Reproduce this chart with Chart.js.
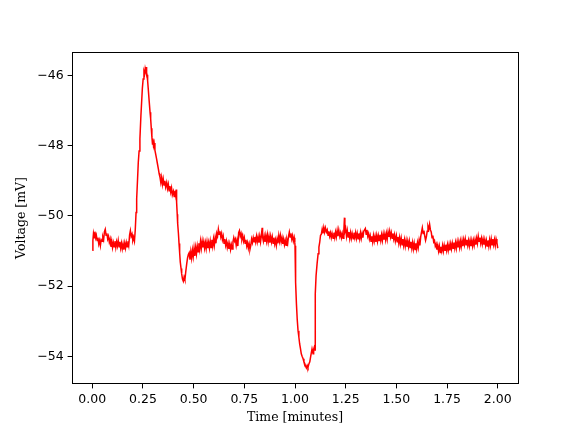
<!DOCTYPE html>
<html>
<head>
<meta charset="utf-8">
<script src="https://cdn.jsdelivr.net/npm/chart.js@4/dist/chart.umd.min.js"></script>
<style>
  html, body { margin: 0; padding: 0; background: #fff; }
</style>
</head>
<body>
<canvas id="myChart" width="576" height="432"></canvas>
<script>
// trace, in pieces (time in minutes, voltage in mV)
// baseline before the spike
const preTime = [
  0.000, 0.003, 0.006, 0.010, 0.013, 0.017, 0.020, 0.024, 0.028, 0.032,
  0.036, 0.040, 0.044, 0.048, 0.052, 0.056, 0.060, 0.064, 0.068, 0.072,
  0.076, 0.080, 0.084, 0.088, 0.092, 0.096, 0.100, 0.104, 0.108, 0.112,
  0.116, 0.120, 0.124, 0.128, 0.132, 0.136, 0.140, 0.144, 0.148, 0.152,
  0.156, 0.160, 0.164, 0.168, 0.172, 0.176, 0.180, 0.184, 0.188, 0.192,
  0.196, 0.200, 0.204, 0.208
];
const preVolt = [
  -50.98, -50.70, -50.50, -50.62, -50.45, -50.62, -50.55, -50.70, -50.62, -50.80,
  -50.70, -50.85, -50.68, -50.72, -50.60, -50.68, -50.45, -50.38, -50.55, -50.50,
  -50.66, -50.58, -50.75, -50.66, -50.88, -50.72, -50.90, -50.76, -50.88, -50.72,
  -50.90, -50.74, -50.86, -50.70, -50.88, -50.74, -50.92, -50.78, -50.94, -50.80,
  -50.96, -50.78, -50.92, -50.76, -50.88, -50.72, -50.84, -50.55, -50.42, -50.58,
  -50.52, -50.70, -50.62, -50.72
];
// spike and the undershoot after it
const spikeTime = [
  0.212, 0.216, 0.219, 0.223, 0.227, 0.231, 0.235, 0.240, 0.244, 0.247,
  0.251, 0.255, 0.258, 0.261, 0.264, 0.266, 0.268, 0.270, 0.273, 0.276,
  0.281, 0.285, 0.288, 0.291, 0.294, 0.297, 0.299, 0.302, 0.305, 0.309,
  0.313, 0.317, 0.321, 0.326, 0.330, 0.334, 0.338, 0.342, 0.346, 0.350,
  0.354, 0.358, 0.362, 0.367, 0.371, 0.375, 0.379, 0.383, 0.387, 0.391,
  0.395, 0.400, 0.404, 0.408, 0.411, 0.414, 0.416, 0.419, 0.421, 0.425,
  0.428, 0.431, 0.434, 0.438, 0.441, 0.445, 0.449, 0.453, 0.457, 0.461,
  0.466, 0.470, 0.474
];
const spikeVolt = [
  -50.40, -49.90, -49.51, -49.00, -48.47, -48.15, -47.80, -47.13, -46.70, -46.37,
  -46.10, -45.89, -45.95, -45.80, -45.88, -45.76, -45.92, -45.98, -46.15, -46.37,
  -46.75, -47.05, -47.23, -47.50, -47.75, -47.95, -47.80, -48.00, -47.92, -48.13,
  -48.25, -48.37, -48.50, -48.66, -48.80, -48.90, -49.05, -48.90, -49.10, -48.95,
  -49.12, -49.00, -49.18, -49.05, -49.22, -49.10, -49.28, -49.15, -49.32, -49.20,
  -49.40, -49.30, -49.45, -49.28, -49.40, -49.25, -49.61, -49.95, -50.20, -50.50,
  -50.79, -51.05, -51.31, -51.50, -51.65, -51.80, -51.86, -51.74, -51.82, -51.60,
  -51.36, -51.20, -51.10
];
// baseline between the spike and the dip
const midTime = [
  0.478, 0.482, 0.486, 0.490, 0.494, 0.498, 0.502, 0.506, 0.510, 0.514,
  0.518, 0.522, 0.526, 0.530, 0.534, 0.538, 0.542, 0.546, 0.550, 0.554,
  0.558, 0.562, 0.566, 0.570, 0.574, 0.578, 0.582, 0.586, 0.590, 0.594,
  0.598, 0.602, 0.606, 0.610, 0.614, 0.618, 0.622, 0.626, 0.630, 0.634,
  0.638, 0.642, 0.646, 0.650, 0.654, 0.658, 0.662, 0.666, 0.670, 0.674,
  0.678, 0.682, 0.686, 0.690, 0.694, 0.698, 0.702, 0.706, 0.710, 0.714,
  0.718, 0.722, 0.726, 0.730, 0.734, 0.738, 0.742, 0.746, 0.750, 0.754,
  0.758, 0.762, 0.766, 0.770, 0.774, 0.778, 0.782, 0.786, 0.790, 0.794,
  0.798, 0.802, 0.806, 0.810, 0.814, 0.818, 0.822, 0.826, 0.830, 0.834,
  0.838, 0.840, 0.844, 0.848, 0.852, 0.856, 0.860, 0.864, 0.868, 0.872,
  0.876, 0.880, 0.884, 0.888, 0.892, 0.896, 0.900, 0.904, 0.908, 0.912,
  0.916, 0.920, 0.924, 0.928, 0.932, 0.936, 0.940, 0.944, 0.948, 0.952,
  0.956, 0.960, 0.964, 0.968, 0.972, 0.976, 0.980, 0.984, 0.988, 0.992,
  0.996, 0.999
];
const midVolt = [
  -51.05, -51.25, -51.02, -51.20, -50.98, -51.16, -50.92, -51.14, -50.90, -51.08,
  -50.86, -51.02, -50.78, -50.95, -50.72, -50.92, -50.72, -50.90, -50.74, -50.92,
  -50.76, -50.93, -50.74, -50.92, -50.76, -50.92, -50.72, -50.90, -50.68, -50.86,
  -50.66, -50.84, -50.62, -50.78, -50.50, -50.58, -50.38, -50.52, -50.44, -50.60,
  -50.50, -50.68, -50.58, -50.78, -50.66, -50.84, -50.72, -50.90, -50.78, -50.94,
  -50.80, -50.96, -50.82, -50.94, -50.74, -50.62, -50.72, -50.66, -50.84, -50.70,
  -50.86, -50.48, -50.42, -50.58, -50.50, -50.66, -50.56, -50.72, -50.62, -50.78,
  -50.68, -50.86, -50.76, -50.92, -50.80, -50.95, -50.84, -50.66, -50.76, -50.62,
  -50.74, -50.60, -50.74, -50.58, -50.74, -50.60, -50.76, -50.58, -50.74, -50.56,
  -50.34, -50.60, -50.72, -50.58, -50.74, -50.56, -50.72, -50.54, -50.74, -50.58,
  -50.76, -50.58, -50.74, -50.60, -50.78, -50.62, -50.80, -50.68, -50.84, -50.66,
  -50.78, -50.56, -50.72, -50.56, -50.74, -50.62, -50.80, -50.66, -50.82, -50.70,
  -50.84, -50.68, -50.78, -50.58, -50.46, -50.60, -50.50, -50.66, -50.56, -50.72,
  -50.62, -50.76
];
// hyperpolarising dip at one minute
const dipTime = [
  1.000, 1.002, 1.004, 1.007, 1.011, 1.015, 1.019, 1.023, 1.027, 1.031,
  1.035, 1.040, 1.044, 1.048, 1.052, 1.056, 1.060, 1.064, 1.069, 1.073,
  1.077, 1.080, 1.084, 1.089, 1.092, 1.095, 1.099, 1.100
];
const dipVolt = [
  -50.85, -51.50, -51.90, -52.50, -52.95, -53.27, -53.45, -53.65, -53.78, -53.93,
  -54.00, -54.07, -54.16, -54.21, -54.28, -54.33, -54.26, -54.32, -54.21, -54.16,
  -54.02, -53.92, -53.79, -53.93, -53.80, -53.74, -53.82, -52.22
];
// recovery and late baseline
const lateTime = [
  1.104, 1.109, 1.114, 1.118, 1.122, 1.126, 1.130, 1.134, 1.138, 1.142,
  1.146, 1.150, 1.155, 1.159, 1.163, 1.167, 1.171, 1.175, 1.179, 1.183,
  1.188, 1.192, 1.196, 1.200, 1.204, 1.208, 1.212, 1.216, 1.221, 1.225,
  1.229, 1.233, 1.237, 1.241, 1.244, 1.246, 1.250, 1.254, 1.258, 1.262,
  1.266, 1.270, 1.274, 1.278, 1.282, 1.287, 1.291, 1.295, 1.299, 1.303,
  1.307, 1.311, 1.315, 1.319, 1.323, 1.327, 1.331, 1.335, 1.339, 1.343,
  1.347, 1.351, 1.355, 1.359, 1.363, 1.367, 1.371, 1.375, 1.379, 1.383,
  1.387, 1.391, 1.395, 1.399, 1.403, 1.407, 1.411, 1.415, 1.419, 1.423,
  1.427, 1.431, 1.435, 1.439, 1.443, 1.447, 1.451, 1.455, 1.459, 1.463,
  1.467, 1.471, 1.475, 1.479, 1.483, 1.487, 1.491, 1.495, 1.500, 1.504,
  1.508, 1.512, 1.516, 1.520, 1.524, 1.528, 1.532, 1.536, 1.540, 1.544,
  1.548, 1.552, 1.556, 1.560, 1.564, 1.568, 1.572, 1.576, 1.580, 1.584,
  1.588, 1.592, 1.596, 1.600, 1.604, 1.608, 1.612, 1.616, 1.620, 1.624,
  1.628, 1.632, 1.636, 1.640, 1.644, 1.648, 1.652, 1.656, 1.660, 1.664,
  1.668, 1.672, 1.676, 1.680, 1.684, 1.688, 1.692, 1.696, 1.700, 1.704,
  1.708, 1.712, 1.716, 1.720, 1.724, 1.728, 1.732, 1.736, 1.740, 1.744,
  1.748, 1.752, 1.756, 1.760, 1.764, 1.768, 1.772, 1.776, 1.780, 1.784,
  1.788, 1.792, 1.796, 1.800, 1.804, 1.808, 1.812, 1.816, 1.820, 1.824,
  1.828, 1.832, 1.836, 1.840, 1.844, 1.848, 1.852, 1.856, 1.860, 1.864,
  1.868, 1.872, 1.876, 1.880, 1.884, 1.888, 1.892, 1.896, 1.900, 1.904,
  1.908, 1.912, 1.916, 1.920, 1.924, 1.928, 1.932, 1.936, 1.940, 1.944,
  1.948, 1.952, 1.956, 1.960, 1.964, 1.968, 1.972, 1.976, 1.980, 1.984,
  1.988, 1.992, 1.996, 2.000
];
const lateVolt = [
  -51.70, -51.36, -51.08, -50.89, -50.75, -50.55, -50.52, -50.38, -50.50, -50.33,
  -50.46, -50.34, -50.46, -50.40, -50.55, -50.44, -50.58, -50.48, -50.62, -50.50,
  -50.64, -50.48, -50.62, -50.46, -50.60, -50.42, -50.58, -50.40, -50.58, -50.48,
  -50.62, -50.50, -50.64, -50.40, -50.05, -50.45, -50.36, -50.58, -50.42, -50.60,
  -50.46, -50.64, -50.48, -50.64, -50.50, -50.65, -50.48, -50.62, -50.48, -50.64,
  -50.50, -50.65, -50.50, -50.65, -50.48, -50.64, -50.50, -50.62, -50.44, -50.40,
  -50.36, -50.52, -50.40, -50.58, -50.50, -50.66, -50.56, -50.72, -50.58, -50.74,
  -50.56, -50.72, -50.58, -50.74, -50.56, -50.72, -50.56, -50.70, -50.54, -50.70,
  -50.54, -50.70, -50.52, -50.68, -50.52, -50.68, -50.50, -50.66, -50.46, -50.60,
  -50.44, -50.60, -50.48, -50.64, -50.50, -50.66, -50.54, -50.72, -50.56, -50.74,
  -50.60, -50.78, -50.62, -50.80, -50.64, -50.82, -50.66, -50.84, -50.68, -50.86,
  -50.70, -50.88, -50.72, -50.88, -50.72, -50.90, -50.74, -50.92, -50.76, -50.94,
  -50.78, -50.96, -50.78, -50.94, -50.76, -50.90, -50.70, -50.84, -50.60, -50.46,
  -50.34, -50.50, -50.42, -50.58, -50.70, -50.60, -50.44, -50.30, -50.38, -50.24,
  -50.40, -50.46, -50.62, -50.56, -50.74, -50.70, -50.86, -50.80, -50.96, -50.84,
  -51.00, -50.86, -51.04, -50.88, -51.00, -50.84, -51.00, -50.84, -50.98, -50.82,
  -50.98, -50.82, -50.98, -50.82, -50.98, -50.80, -50.94, -50.78, -50.92, -50.76,
  -50.92, -50.76, -50.92, -50.74, -50.90, -50.74, -50.90, -50.72, -50.88, -50.70,
  -50.86, -50.68, -50.82, -50.66, -50.82, -50.68, -50.84, -50.70, -50.86, -50.70,
  -50.86, -50.70, -50.86, -50.70, -50.84, -50.68, -50.82, -50.64, -50.78, -50.58,
  -50.72, -50.62, -50.78, -50.64, -50.80, -50.66, -50.82, -50.68, -50.84, -50.70,
  -50.86, -50.70, -50.86, -50.68, -50.84, -50.66, -50.82, -50.66, -50.82, -50.68,
  -50.84, -50.66, -50.76, -50.92
];
const xTicks = [0, 0.25, 0.5, 0.75, 1.0, 1.25, 1.5, 1.75, 2.0];
const yTicks = [-54, -52, -50, -48, -46];

const timeMin = [].concat(preTime, spikeTime, midTime, dipTime, lateTime);
const voltage = [].concat(preVolt, spikeVolt, midVolt, dipVolt, lateVolt);
const points = timeMin.map((t, i) => ({ x: t, y: voltage[i] }));

// matplotlib style box round the axes
const frameBox = {
  id: 'frameBox',
  afterDraw(chart) {
    const { ctx, chartArea: { top, bottom, left, right } } = chart;
    ctx.save();
    ctx.strokeStyle = '#000';
    ctx.lineWidth = 1;
    ctx.strokeRect(Math.round(left) + 0.5, Math.round(top) + 0.5,
      Math.round(right - left), Math.round(bottom - top) - 1);
    ctx.restore();
  }
};

const tickFont = { family: 'DejaVu Sans', size: 12.5 };
const titleFont = { family: 'DejaVu Serif', size: 12.5 };

const config = {
  type: 'scatter',
  data: {
    datasets: [{
      data: points,
      showLine: true,
      borderColor: '#ff0000',
      backgroundColor: '#ff0000',
      borderWidth: 1.5,
      pointRadius: 0,
      tension: 0
    }]
  },
  options: {
    responsive: false,
    animation: false,
    layout: { padding: { left: 0, right: 58, top: 52, bottom: 0 } },
    plugins: {
      legend: { display: false },
      tooltip: { enabled: false }
    },
    scales: {
      x: {
        type: 'linear',
        min: -0.1,
        max: 2.1,
        afterBuildTicks: (s) => { s.ticks = xTicks.map(v => ({ value: v })); },
        afterFit: (s) => { s.height = 48; },
        grid: { drawOnChartArea: false, drawTicks: true, tickLength: 4.4, color: '#000' },
        border: { display: false },
        ticks: {
          color: '#000',
          font: tickFont,
          padding: 4,
          maxRotation: 0,
          callback: (v) => Number(v).toFixed(2)
        },
        title: {
          display: true,
          text: 'Time [minutes]',
          color: '#000',
          font: titleFont,
          padding: { top: 0, bottom: 6.5 }
        }
      },
      y: {
        type: 'linear',
        min: -54.79,
        max: -45.33,
        afterBuildTicks: (s) => { s.ticks = yTicks.map(v => ({ value: v })); },
        afterFit: (s) => { s.width = 72; },
        grid: { drawOnChartArea: false, drawTicks: true, tickLength: 4.4, color: '#000' },
        border: { display: false },
        ticks: {
          color: '#000',
          font: tickFont,
          padding: 4,
          callback: (v) => String(v).replace('-', '\u2212')
        },
        title: {
          display: true,
          text: 'Voltage [mV]',
          color: '#000',
          font: titleFont,
          padding: { top: 14, bottom: 0 }
        }
      }
    }
  },
  plugins: [frameBox]
};

const myChart = new Chart(document.getElementById('myChart'), config);
</script>
</body>
</html>
